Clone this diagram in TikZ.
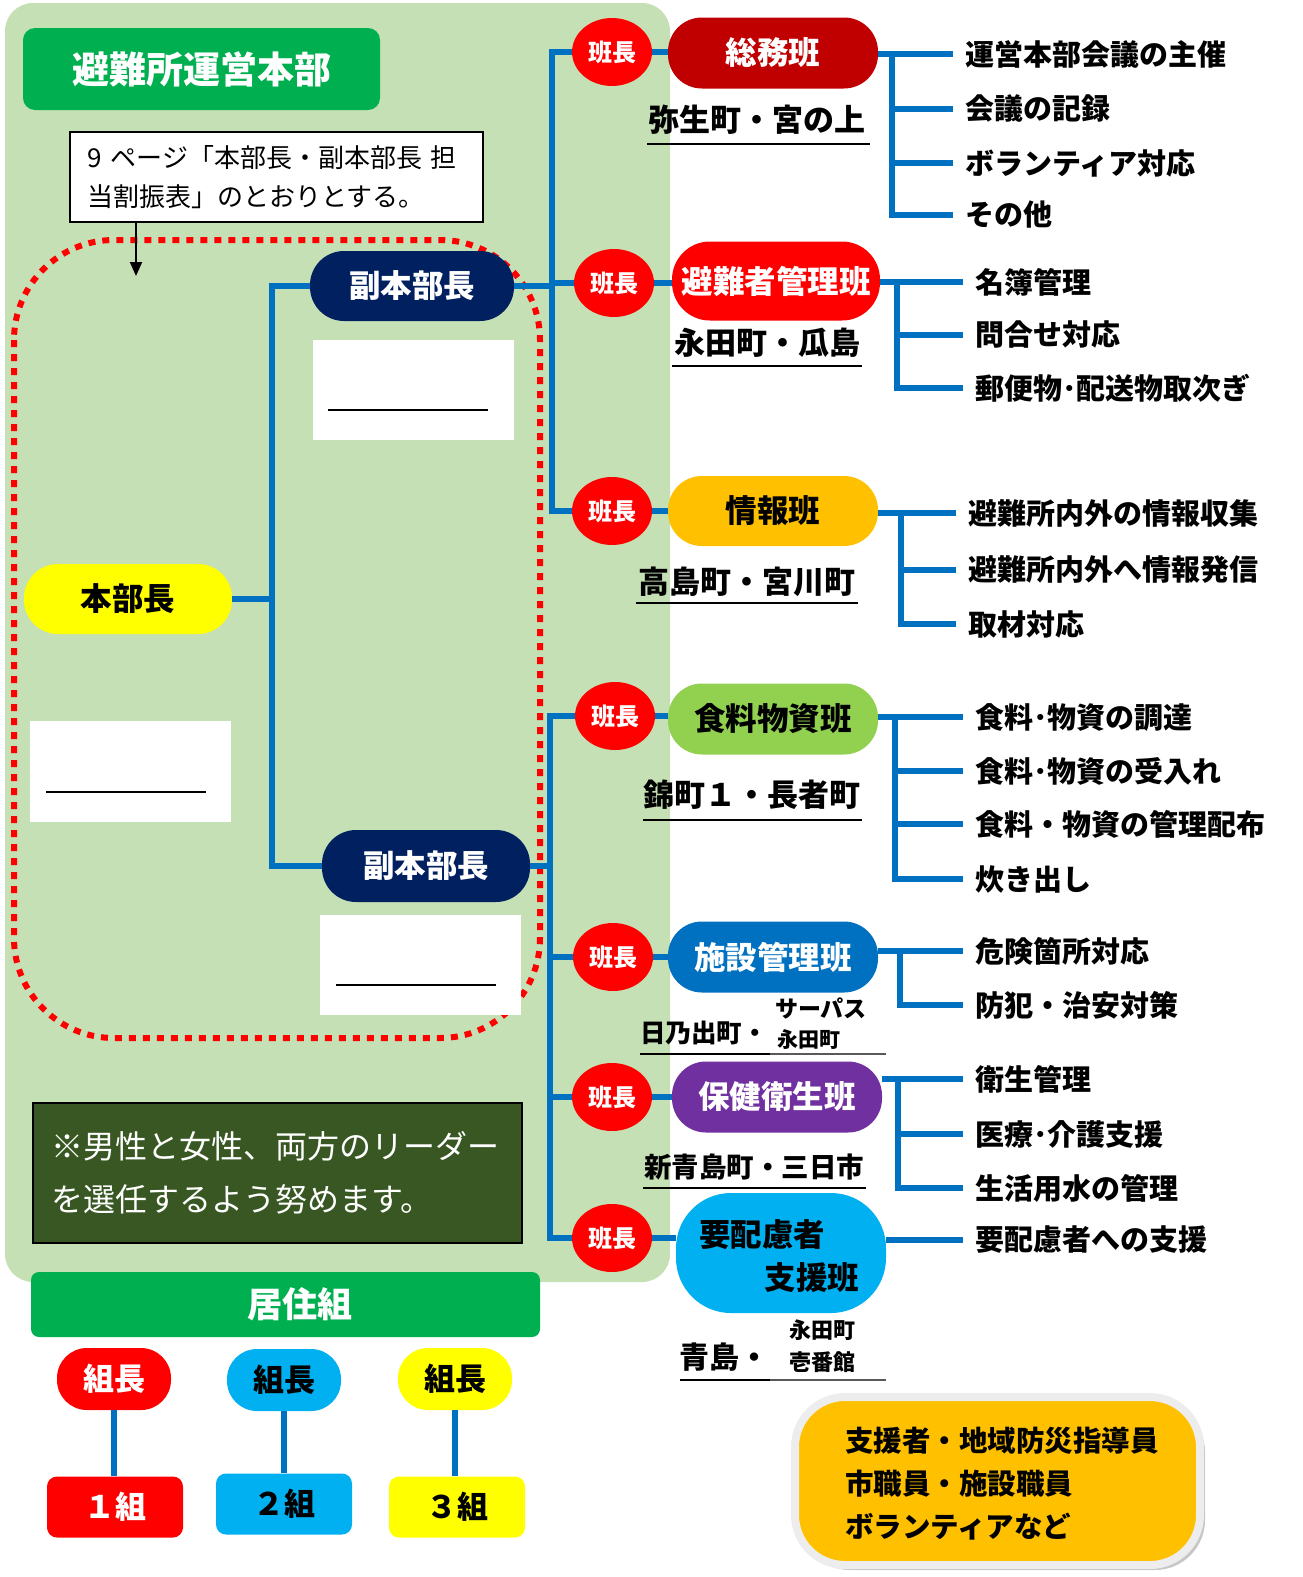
\documentclass[tikz,border=0pt]{standalone}
\usepackage{fontspec}
\setmainfont{Noto Sans CJK JP}
\usetikzlibrary{shapes.geometric,arrows.meta}
\definecolor{panel}{HTML}{C5E0B4}
\definecolor{bluel}{HTML}{0070C0}
\definecolor{gtitle}{HTML}{00B050}
\definecolor{darkred}{HTML}{C00000}
\definecolor{orangey}{HTML}{FFC000}
\definecolor{lgreen}{HTML}{92D050}
\definecolor{purp}{HTML}{7030A0}
\definecolor{cyanb}{HTML}{00B0F0}
\definecolor{navy}{HTML}{002060}
\definecolor{dkgreen}{HTML}{385723}
\definecolor{pureyellow}{HTML}{FFFF00}
\definecolor{purered}{HTML}{FF0000}
\definecolor{ulgray}{HTML}{595959}
\newcommand\fsz[1]{\fontsize{#1}{#1}\selectfont}
\begin{document}
\begin{tikzpicture}[x=1pt,y=-1pt,
  bl/.style={draw=bluel,line width=6pt},
  pill/.style={rounded corners=34pt,minimum width=210pt,minimum height=71pt,inner sep=0pt,font=\bfseries\fsz{31.5}},
  hancho/.style={ellipse,fill=purered,minimum width=80pt,minimum height=68pt,inner sep=0pt,text=white,font=\bfseries\fsz{24}},
  task/.style={anchor=west,inner xsep=12pt,inner ysep=2pt,font=\bfseries\fsz{29}},
  area/.style={font=\bfseries\fsz{31},inner sep=0pt},
  ul/.style={line width=2pt,draw=black},
  kumicho/.style={rounded corners=30pt,minimum width=114pt,minimum height=62pt,inner sep=0pt,font=\bfseries\fsz{31}},
  kumibox/.style={rounded corners=10pt,minimum width=136pt,minimum height=61pt,inner sep=0pt,font=\bfseries\fsz{31}}
]
\useasboundingbox (0,0) rectangle (1302,1577);
% background panel
\fill[panel, rounded corners=28pt] (5,3) rectangle (670,1282);
% red dotted frame
\draw[purered, line width=6pt, dash pattern=on 7pt off 7pt, rounded corners=100pt] (14,240) rectangle (540,1038);

% title
\node[fill=gtitle, rounded corners=12pt, minimum width=357pt, minimum height=82pt, inner sep=0pt, text=white, font=\bfseries\fsz{37}] (title) at (201.5,69) {避難所運営本部};

% note
\node[draw=black, line width=2pt, fill=white, minimum width=413pt, minimum height=90pt, text width=378pt, align=left, inner sep=0pt, font=\fontsize{26}{39}\selectfont] (note) at (276.5,177) {9 ページ「本部長・副本部長 担\\当割振表」のとおりとする。};
\coordinate (arrtip) at (136,276);
\draw[line width=2pt, -{Triangle[length=14pt,width=12pt]}] (note.south -| arrtip) -- (arrtip);

% white boxes
\fill[white] (313,340) rectangle (514,440);
\draw[ul] (328,410) -- (488,410);
\fill[white] (30,721) rectangle (231,822);
\draw[ul] (46,792) -- (206,792);
\fill[white] (320,915) rectangle (521,1015);
\draw[ul] (336,985) -- (496,985);

% headquarters
\node[pill, fill=pureyellow, minimum width=208pt, minimum height=70pt] (honbu) at (128,599) {本部長};
\node[pill, fill=navy, text=white, minimum width=204pt, minimum height=70pt] (fuk1) at (412,286) {副本部長};
\node[pill, fill=navy, text=white, minimum width=208pt, minimum height=72pt] (fuk2) at (426,866) {副本部長};
\coordinate (lbus) at (272,0);
\draw[bl] (honbu.east) -- (honbu.east -| lbus);
\draw[bl] (fuk1.west) -| (lbus |- fuk2.west) -- (fuk2.west);

% hancho circles
\node[hancho] (h1) at (612,52) {班長};
\node[hancho] (h2) at (614,283) {班長};
\node[hancho] (h3) at (612,511) {班長};
\node[hancho] (h4) at (615,716) {班長};
\node[hancho] (h5) at (613,957) {班長};
\node[hancho] (h6) at (612,1097) {班長};
\node[hancho] (h7) at (612,1238) {班長};

% section pills
\node[pill, fill=darkred, text=white] (s1) at (773,53) {総務班};
\node[pill, fill=purered, text=white, minimum width=208pt, minimum height=79pt, rounded corners=38pt] (s2) at (776,281) {避難者管理班};
\node[pill, fill=orangey, minimum height=70pt] (s3) at (773,511) {情報班};
\node[pill, fill=lgreen] (s4) at (773,719) {食料物資班};
\node[pill, fill=bluel, text=white] (s5) at (773,957) {施設管理班};
\node[pill, fill=purp, text=white] (s6) at (777,1097) {保健衛生班};
\node[pill, fill=cyanb, minimum height=120pt, rounded corners=55pt] (s7) at (781,1253) {};
\node[font=\bfseries\fsz{31.5}, inner sep=0pt] (s7a) at (762,1235) {要配慮者};
\node[font=\bfseries\fsz{31.5}, inner sep=0pt] (s7b) at (812,1278) {支援班};

% buses
\coordinate (busA) at (552,0);
\coordinate (busB) at (550,0);
\draw[bl] (h1.west) -- (h1.west -| busA) -- (h3.west -| busA) -- (h3.west);
\draw[bl] (h2.west -| busA) -- (h2.west);
\draw[bl] (fuk1.east) -- (fuk1.east -| busA);
\draw[bl] (h4.west) -- (h4.west -| busB) -- (h7.west -| busB) -- (h7.west);
\draw[bl] (h5.west -| busB) -- (h5.west);
\draw[bl] (h6.west -| busB) -- (h6.west);
\draw[bl] (fuk2.east) -- (fuk2.east -| busB);
% hancho to pill
\draw[bl] (h1.east) -- (h1.east -| s1.west);
\draw[bl] (h2.east) -- (h2.east -| s2.west);
\draw[bl] (h3.east) -- (h3.east -| s3.west);
\draw[bl] (h4.east) -- (h4.east -| s4.west);
\draw[bl] (h5.east) -- (h5.east -| s5.west);
\draw[bl] (h6.east) -- (h6.east -| s6.west);
\draw[bl] (h7.east) -- (h7.east -| s7.west);

% area labels
\node[area] (a1) at (757,120) {弥生町・宮の上};
\draw[ul] (647,144) -- (870,144);
\node[area] (a2) at (767,343) {永田町・瓜島};
\draw[ul] (672,366) -- (862,366);
\node[area] (a3) at (747,582) {高島町・宮川町};
\draw[ul] (636,603) -- (858,603);
\node[area] (a4) at (752,795) {錦町１・長者町};
\draw[ul] (643,820) -- (862,820);
\node[area, font=\bfseries\fsz{25.5}] (a5) at (704,1033) {日乃出町・};
\node[area, font=\bfseries\fsz{23}] (a5b) at (821,1008) {サーパス};
\node[area, font=\bfseries\fsz{21}] (a5c) at (809,1040) {永田町};
\draw[ul] (640,1054) -- (770,1054);
\draw[ul, draw=ulgray] (770,1054) -- (886,1054);
\node[area, font=\bfseries\fsz{27.5}] (a6) at (754,1167) {新青島町・三日市};
\draw[ul] (643,1188) -- (866,1188);
\node[area, font=\bfseries\fsz{30}] (a7) at (724,1357) {青島・};
\node[area, font=\bfseries\fsz{22}] (a7b) at (822,1330) {永田町};
\node[area, font=\bfseries\fsz{22}] (a7c) at (822,1362) {壱番館};
\draw[ul] (680,1380) -- (770,1380);
\draw[ul, draw=ulgray] (770,1380) -- (886,1380);

% tasks group 1
\coordinate (v1) at (892,0);
\node[task] (t11) at (953,54) {運営本部会議の主催};
\node[task] (t12) at (953,109) {会議の記録};
\node[task] (t13) at (953,163) {ボランティア対応};
\node[task] (t14) at (953,215) {その他};
\draw[bl] (s1.east |- t11.west) -- (t11.west);
\draw[bl] (v1 |- t11.west) -- (v1 |- t14.west) -- (t14.west);
\draw[bl] (v1 |- t12.west) -- (t12.west);
\draw[bl] (v1 |- t13.west) -- (t13.west);
% group 2
\coordinate (v2) at (897,0);
\node[task] (t21) at (963,282) {名簿管理};
\node[task] (t22) at (963,335) {問合せ対応};
\node[task] (t23) at (963,388) {郵便物･配送物取次ぎ};
\draw[bl] (s2.east |- t21.west) -- (t21.west);
\draw[bl] (v2 |- t21.west) -- (v2 |- t23.west) -- (t23.west);
\draw[bl] (v2 |- t22.west) -- (t22.west);
% group 3
\coordinate (v3) at (901,0);
\node[task] (t31) at (956,513) {避難所内外の情報収集};
\node[task] (t32) at (956,570) {避難所内外へ情報発信};
\node[task] (t33) at (956,624) {取材対応};
\draw[bl] (s3.east |- t31.west) -- (t31.west);
\draw[bl] (v3 |- t31.west) -- (v3 |- t33.west) -- (t33.west);
\draw[bl] (v3 |- t32.west) -- (t32.west);
% group 4
\coordinate (v4) at (895,0);
\node[task] (t41) at (963,717) {食料･物資の調達};
\node[task] (t42) at (963,771) {食料･物資の受入れ};
\node[task] (t43) at (963,824) {食料・物資の管理配布};
\node[task] (t44) at (963,879) {炊き出し};
\draw[bl] (s4.east |- t41.west) -- (t41.west);
\draw[bl] (v4 |- t41.west) -- (v4 |- t44.west) -- (t44.west);
\draw[bl] (v4 |- t42.west) -- (t42.west);
\draw[bl] (v4 |- t43.west) -- (t43.west);
% group 5
\coordinate (v5) at (900,0);
\node[task] (t51) at (963,951) {危険箇所対応};
\node[task] (t52) at (963,1005) {防犯・治安対策};
\draw[bl] (s5.east |- t51.west) -- (t51.west);
\draw[bl] (v5 |- t51.west) -- (v5 |- t52.west) -- (t52.west);
% group 6
\coordinate (v6) at (898,0);
\node[task] (t61) at (963,1079) {衛生管理};
\node[task] (t62) at (963,1134) {医療･介護支援};
\node[task] (t63) at (963,1188) {生活用水の管理};
\draw[bl] (s6.east |- t61.west) -- (t61.west);
\draw[bl] (v6 |- t61.west) -- (v6 |- t63.west) -- (t63.west);
\draw[bl] (v6 |- t62.west) -- (t62.west);
% group 7
\node[task] (t71) at (963,1240) {要配慮者への支援};
\draw[bl] (s7.east |- t71.west) -- (t71.west);

% memo
\node[draw=black, line width=2pt, fill=dkgreen, minimum width=489pt, minimum height=140pt, text width=452pt, align=left, inner sep=0pt, text=white, font=\fontsize{32}{53}\selectfont] (memo) at (277.5,1173) {※男性と女性、両方のリーダー\\を選任するよう努めます。};

% kyojugumi
\node[fill=gtitle, rounded corners=8pt, minimum width=509pt, minimum height=65pt, inner sep=0pt, text=white, font=\bfseries\fsz{35}] (kyoju) at (285.5,1304.5) {\hspace*{28pt}居住組};
\node[kumicho, fill=purered, text=white] (k1) at (114,1379) {組長};
\node[kumicho, fill=cyanb] (k2) at (284,1380) {組長};
\node[kumicho, fill=pureyellow] (k3) at (455,1379) {組長};
\node[kumibox, fill=purered, text=white] (g1) at (115,1507) {１組};
\node[kumibox, fill=cyanb] (g2) at (284,1504) {２組};
\node[kumibox, fill=pureyellow] (g3) at (457,1507) {３組};
\draw[bl] (k1.south) -- (k1.south |- g1.north);
\draw[bl] (k2.south) -- (k2.south |- g2.north);
\draw[bl] (k3.south) -- (k3.south |- g3.north);

% supporters
\fill[black!22, rounded corners=50pt] (800,1402) rectangle (1205,1570);
\draw[draw=white!93!black, line width=8pt, fill=orangey, rounded corners=50pt] (795,1397) rectangle (1200,1565);
\node[anchor=west, align=left, inner sep=0pt, font=\bfseries\fontsize{28.5}{43}\selectfont] (sup) at (845,1484) {支援者・地域防災指導員\\市職員・施設職員\\ボランティアなど};
\end{tikzpicture}
\end{document}
